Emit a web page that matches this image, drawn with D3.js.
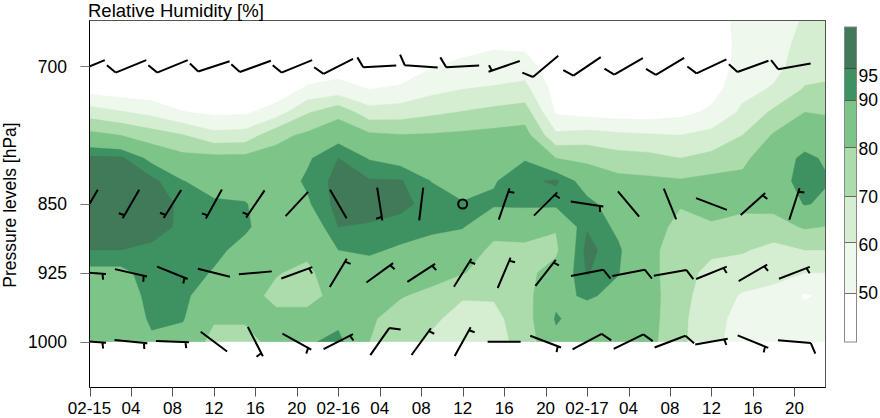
<!DOCTYPE html>
<html><head><meta charset="utf-8">
<script src="https://cdn.jsdelivr.net/npm/d3@7"></script>
<style>
html,body{margin:0;padding:0;background:#fff;}
svg{display:block;font-family:"Liberation Sans",Arial,Helvetica,sans-serif;}
</style></head><body>
<svg id="chart" width="880" height="418"></svg>
<script>
(function(){
// ---------------- data ----------------
const gridHours = [0,3,6,9,12,15,18,21,24,27,30,33,36,39,42,45,48,51,54,57,60,63,66,69,72];
const gridLevels = [650,675,700,725,750,775,800,825,850,875,900,925,950,975,1000];
// relative humidity profiles (top -> bottom, 650..1000 hPa), one per grid hour
const rhColumns = [
 [35,38,42,46,65,83,96,97,98,97,95,88,86,85,84],
 [35,38,42,44,61,80,96,97,98,97,95,88,86,85,84],
 [35,38,42,43,57,75,88,96.5,97.5,97,94,93,92,91,89],
 [35,38,40,42,50.5,70.5,83,90.2,94,94,93,92.5,92,90.5,87],
 [35,38,40,44,48,63,83,87,91,92,91.5,89.5,84,81,77],
 [35,38,40,43,48.5,64,83,87.5,90.3,91,88,85,83,81,77],
 [36,38,38,43,55,77,84,86,87,86,84,80.5,78,82,83],
 [37,40,42,52,69,82,89,91,89,84,82,78,76,84,89],
 [38,42,45,54,77,87,95,97,97,95,90,86,84,88,92],
 [38,40,42,50,64,82,89.5,95.5,97,94.5,91,87,84,81,80],
 [38,40,42,52,65,80.5,87,95.5,96.5,93,89,85,80.5,77,75],
 [39,42,49.5,57,68,81,86,89.8,93,91.5,87,83,78,72,68],
 [40,45,53,60,70.5,82,86,88,90.3,90.4,85,80.5,71,66,63],
 [42,48,55,61,73,83,87,89.5,91,83,78,76,71,67,65],
 [42,47,55,63,75,84,89.5,93.5,91.5,82,79,78,77,76,75],
 [38,40,43,46,49,62,80,96,91.5,80.5,78.5,83,88,90.8,88],
 [40,40,40,42,46,64,78,86,92,94.5,97,95.5,91,86,84],
 [40,40,40,41,45,62,74,83,86,88.5,91,90.3,88,85,84],
 [40,40,40,41,45,61,73,82,84,83,82,83,84,84,83],
 [40,40,41,43,47,60,70,81,80.5,78,76,74,73,72,72],
 [44,42,42,46,52,63,73,83,83,79,72,67,65,64,63],
 [54,54,55,57,62,70,78,82,82,77,71,65,59,56,55],
 [55,56,57,61,72,81,86,86,83,76,67,62,58,56,55],
 [61,63,65,71,80,86,91.5,93,90.5,81,70,60,49,54,55],
 [60,62,66,73,79,84,88,89.5,88,79,70,60,53,55,56]
];
const rhThresholds = [50,60,70,80,90,95];
const rhColors = ["#eef8ec","#d5eed2","#acdcac","#7dc489","#3e9160","#417a58"];

// wind barbs every 4 hours
const barbHours = [0,4,8,12,16,20,24,28,32,36,40,44,48,52,56,60,64,68];
const barbLevels = [700,850,925,1000];
const dir700  = [248,248,248,252,250,248,243,267,274,267,251,230,236,240,239,245,250,260];
const spd700  = [10,10,10,10,10,10,10,10,10,10,5,10,10,10,10,10,10,10];
const dir850  = [210,210,212,209,214,223,150,171,187,0,19,45,99,140,158,111,48,18];
const spd850  = [5,5,5,5,5,2,2,5,2,0,5,5,5,2,2,2,5,5];
const dir925  = [94,103,112,104,85,70,31,54,57,32,23,38,79,79,80,68,60,69];
const spd925  = [5,5,5,2,2,5,5,5,5,5,5,5,10,10,10,5,5,5];
const dir1000 = [94,96,92,127,153,119,63,35,36,29,90,111,62,64,69,80,112,95];
const spd1000 = [5,5,5,2,5,5,5,10,5,5,2,5,10,10,10,5,5,10];

const xTickHours = [0,4,8,12,16,20,24,28,32,36,40,44,48,52,56,60,64,68];
const xTickLabels = ["02-15","04","08","12","16","20","02-16","04","08","12","16","20","02-17","04","08","12","16","20"];
const yTickLevels = [700,850,925,1000];
const legendEdges = [40,50,60,70,80,90,95,100];
const legendColors = ["#ffffff","#eef8ec","#d5eed2","#acdcac","#7dc489","#3e9160","#417a58"];
const legendTicks = [50,60,70,80,90,95];

// ---------------- layout ----------------
const svg = d3.select("#chart");
const pL = 89.5, pR = 825.5, pT = 20.5, pB = 387.5;
const x = d3.scaleLinear().domain([0,71]).range([pL,pR]);
const y = d3.scaleLinear().domain([650,1050]).range([pT,pB]);

const defs = svg.append("defs");
defs.append("clipPath").attr("id","fieldClip").append("rect")
  .attr("x", pL).attr("y", pT).attr("width", pR-pL).attr("height", y(1000)-pT);
defs.append("clipPath").attr("id","plotClip").append("rect")
  .attr("x", pL).attr("y", pT).attr("width", pR-pL).attr("height", pB-pT);

// contour field
const n = gridHours.length, m = gridLevels.length;
const values = new Array(n*m);
for (let j=0;j<m;j++) for (let i=0;i<n;i++) values[j*n+i] = rhColumns[i][j];
const dh = gridHours[1]-gridHours[0], dpz = gridLevels[1]-gridLevels[0];
const proj = d3.geoTransform({point(gx, gy){
  this.stream.point(x(gridHours[0] + (gx-0.5)*dh), y(gridLevels[0] + (gy-0.5)*dpz));
}});
const path = d3.geoPath(proj);
const contours = d3.contours().size([n,m]).thresholds(rhThresholds)(values);
svg.append("g").attr("clip-path","url(#fieldClip)")
  .selectAll("path").data(contours).join("path")
  .attr("d", path)
  .attr("fill", d => rhColors[rhThresholds.indexOf(d.value)])
  .attr("stroke", d => rhColors[rhThresholds.indexOf(d.value)])
  .attr("stroke-width", 0.4);

// wind barbs
const barbG = svg.append("g").attr("clip-path","url(#plotClip)");
const windDirs = [dir700, dir850, dir925, dir1000];
const windSpds = [spd700, spd850, spd925, spd1000];
function drawBarb(cx, cy, dirDeg, spd) {
  if (spd === 0) {
    barbG.append("circle").attr("cx",cx).attr("cy",cy).attr("r",4.5)
      .attr("fill","none").attr("stroke","#000").attr("stroke-width",2);
    return;
  }
  const th = dirDeg*Math.PI/180;
  const ux = Math.sin(th), uy = -Math.cos(th);
  const L = 33;
  const tx = cx + ux*L/2, ty = cy + uy*L/2;
  let d = `M${cx-ux*L/2},${cy-uy*L/2}L${tx},${ty}`;
  const r = Math.round(spd/5)*5;
  const nFull = Math.floor(r/10), nHalf = (r%10)/5;
  const base = Math.atan2(uy, ux);
  let pos = (nFull===0 && nHalf===1) ? 3.5 : 0;
  for (let k=0;k<nFull;k++) {
    const a = base + 62*Math.PI/180;
    const px = tx - ux*pos, py = ty - uy*pos;
    d += `M${px},${py}l${Math.cos(a)*11.5},${Math.sin(a)*11.5}`;
    pos += 4;
  }
  for (let k=0;k<nHalf;k++) {
    const a = base + 80*Math.PI/180;
    const px = tx - ux*pos, py = ty - uy*pos;
    d += `M${px},${py}l${Math.cos(a)*6},${Math.sin(a)*6}`;
    pos += 4;
  }
  barbG.append("path").attr("d", d).attr("fill","none").attr("stroke","#000")
    .attr("stroke-width",2).attr("stroke-linecap","butt");
}
barbLevels.forEach((lev, li) => {
  barbHours.forEach((h, hi) => drawBarb(x(h), y(lev), windDirs[li][hi], windSpds[li][hi]));
});

// frame
svg.append("rect").attr("x",pL).attr("y",pT).attr("width",pR-pL).attr("height",pB-pT)
  .attr("fill","none").attr("stroke","#555").attr("stroke-width",1);
svg.append("line").attr("x1",pL).attr("x2",pL).attr("y1",pT).attr("y2",pB).attr("stroke","#000");
svg.append("line").attr("x1",pL).attr("x2",pR).attr("y1",pB).attr("y2",pB).attr("stroke","#000");

// x axis
const xa = svg.append("g");
xTickHours.forEach((h,i) => {
  xa.append("line").attr("x1",Math.round(x(h))+0.5).attr("x2",Math.round(x(h))+0.5)
    .attr("y1",pB).attr("y2",pB+9).attr("stroke","#555");
  xa.append("text").attr("x",x(h)).attr("y",414).attr("text-anchor","middle")
    .attr("font-size",17).attr("fill","#000").text(xTickLabels[i]);
});
// y axis
const ya = svg.append("g");
yTickLevels.forEach(p => {
  ya.append("line").attr("x1",pL-9).attr("x2",pL).attr("y1",Math.round(y(p))+0.5).attr("y2",Math.round(y(p))+0.5)
    .attr("stroke","#777");
  ya.append("text").attr("x",67).attr("y",y(p)).attr("dy","0.36em").attr("text-anchor","end")
    .attr("font-size",17.5).attr("fill","#000").text(p);
});
svg.append("text").attr("transform",`translate(16,${(pT+pB)/2 + 1}) rotate(-90)`)
  .attr("text-anchor","middle").attr("font-size",17.5).text("Pressure levels [hPa]");
svg.append("text").attr("x",88).attr("y",17).attr("font-size",18.5).text("Relative Humidity [%]");

// colour legend
const boxScale = d3.scaleLinear().domain(legendEdges).range([342,293,242,196,147,100,68,27]);
const labelScale = d3.scaleLinear().domain([50,90]).range([293,100]);
const lg = svg.append("g");
const lx = 844.5, lw = 12;
legendColors.forEach((c,i) => {
  lg.append("rect").attr("x",lx).attr("width",lw)
    .attr("y",boxScale(legendEdges[i+1])).attr("height",boxScale(legendEdges[i])-boxScale(legendEdges[i+1]))
    .attr("fill",c);
});
legendEdges.slice(1,-1).forEach(v => {
  lg.append("line").attr("x1",lx).attr("x2",lx+lw).attr("y1",Math.round(boxScale(v))+0.5).attr("y2",Math.round(boxScale(v))+0.5)
    .attr("stroke","#333").attr("stroke-opacity",0.7);
});
lg.append("rect").attr("x",lx).attr("y",boxScale(100)).attr("width",lw).attr("height",boxScale(40)-boxScale(100))
  .attr("fill","none").attr("stroke","#888");
legendTicks.forEach(v => {
  lg.append("text").attr("x",lx+lw+2).attr("y",labelScale(v)).attr("dy","0.36em")
    .attr("font-size",17.5).text(v);
});
})();
</script>
</body></html>
